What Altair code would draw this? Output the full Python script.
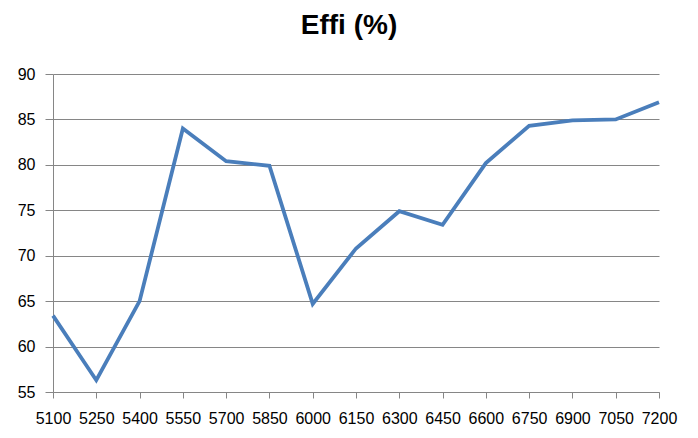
import altair as alt
import pandas as pd

x_vals = [5100, 5250, 5400, 5550, 5700, 5850, 6000, 6150, 6300, 6450, 6600, 6750, 6900, 7050, 7200]
effi = [63.4, 56.3, 65.0, 84.0, 80.4, 79.9, 64.7, 70.8, 74.9, 73.4, 80.2, 84.3, 84.9, 85.0, 86.9]
y_ticks = [55, 60, 65, 70, 75, 80, 85, 90]

df = pd.DataFrame({"x": x_vals, "effi": effi})

FONT = "Liberation Sans"

chart = alt.Chart(df).mark_line(color="#4A7EBB", strokeWidth=3.8).encode(
    x=alt.X("x:Q",
            scale=alt.Scale(domain=[5100, 7200], nice=False, zero=False),
            axis=alt.Axis(values=x_vals, title=None, grid=False, format="d",
                          labelFontSize=16, labelFont=FONT, labelColor="#000000",
                          labelPadding=12, tickSize=6, tickColor="#868686",
                          domainColor="#868686", labelFlush=False,
                          labelOverlap=False)),
    y=alt.Y("effi:Q",
            scale=alt.Scale(domain=[55, 90], nice=False, zero=False),
            axis=alt.Axis(values=y_ticks, title=None, grid=True, gridColor="#868686",
                          gridWidth=1, labelFontSize=16, labelFont=FONT,
                          labelColor="#000000", labelPadding=10, tickSize=8,
                          tickColor="#868686", domainColor="#868686"))
).properties(
    width=606,
    height=318,
    title=alt.TitleParams("Effi (%)", fontSize=28, font=FONT, fontWeight="bold",
                          color="#000000", anchor="middle", dx=-7, offset=26),
    autosize=alt.AutoSizeParams(type="none"),
    padding={"left": 45, "top": 66, "right": 25, "bottom": 46},
).configure_view(stroke=None)

chart.save("out.html", embed_options={"renderer": "svg", "actions": False})
